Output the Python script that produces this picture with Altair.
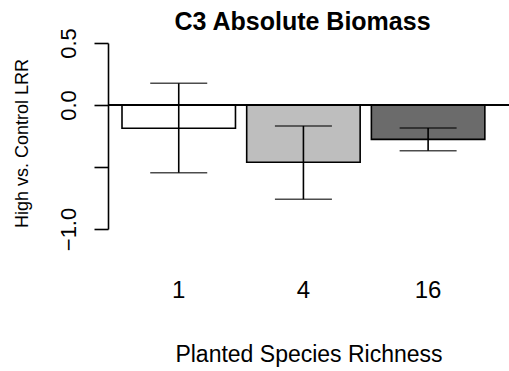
import altair as alt
import pandas as pd

richness = ["1", "4", "16"]
lrr = [-0.188, -0.462, -0.277]
lower = [-0.546, -0.760, -0.369]
upper = [0.175, -0.169, -0.185]
fills = ["#FFFFFF", "#BEBEBE", "#6B6B6B"]

df = pd.DataFrame({"richness": richness, "lrr": lrr, "lower": lower, "upper": upper, "fill": fills})

FONT = "Liberation Sans"
LW = 1.6

xenc = alt.X(
    "richness:N",
    sort=richness,
    scale=alt.Scale(paddingInner=0.09, paddingOuter=0.153, align=0.367),
    axis=alt.Axis(
        title="Planted Species Richness",
        labelAngle=0,
        domain=False,
        ticks=False,
        tickSize=0,
        labelFontSize=24,
        labelFont=FONT,
        labelColor="black",
        labelBaseline="middle",
        labelPadding=61,
        titleFontSize=23,
        titleFont=FONT,
        titleFontWeight="normal",
        titleColor="black",
        titleBaseline="middle",
        titleY=125,
    ),
)

yscale = alt.Scale(domain=[-1.0, 0.5], nice=False, zero=False)
yaxis = alt.Axis(
    title="High vs. Control LRR",
    values=[-1.0, -0.5, 0.0, 0.5],
    labelExpr="datum.value == -0.5 ? '' : format(datum.value, '.1f')",
    labelAngle=270,
    labelAlign="center",
    labelBaseline="alphabetic",
    labelPadding=19,
    labelFontSize=22,
    labelFont=FONT,
    labelColor="black",
    tickSize=14,
    tickColor="black",
    tickWidth=LW,
    domainColor="black",
    domainWidth=LW,
    grid=False,
    titleFontSize=18,
    titleFont=FONT,
    titleFontWeight="normal",
    titleColor="black",
    titleBaseline="middle",
    titleX=-86,
    titleY=100,
)

base = alt.Chart(df)

bars = base.mark_bar(stroke="black", strokeWidth=LW).encode(
    x=xenc,
    y=alt.Y("lrr:Q", scale=yscale, axis=yaxis),
    y2=alt.Y2(datum=0),
    fill=alt.Fill("fill:N", scale=None),
)

zero = base.mark_rule(color="black", strokeWidth=LW).encode(y=alt.datum(0))

err = base.mark_rule(color="black", strokeWidth=LW).encode(
    x=alt.X("richness:N", sort=richness),
    y="lower:Q",
    y2="upper:Q",
)

cap_lo = base.mark_tick(color="black", thickness=LW, size=57, orient="horizontal").encode(
    x=alt.X("richness:N", sort=richness), y="lower:Q"
)
cap_hi = base.mark_tick(color="black", thickness=LW, size=57, orient="horizontal").encode(
    x=alt.X("richness:N", sort=richness), y="upper:Q"
)

chart = (
    alt.layer(bars, zero, err, cap_lo, cap_hi)
    .properties(
        width=401,
        height=186,
        title=alt.TitleParams(
            "C3 Absolute Biomass",
            fontSize=25,
            fontWeight="bold",
            font=FONT,
            color="black",
            anchor="middle",
            dx=-6,
            dy=39,
            offset=12,
            baseline="alphabetic",
        ),
        autosize=alt.AutoSizeParams(type="none"),
        padding={"left": 108, "top": 43, "right": 0, "bottom": 142},
        background="white",
    )
    .configure_view(strokeWidth=0)
)

chart.save("out.html", embed_options={"renderer": "svg", "actions": False})
